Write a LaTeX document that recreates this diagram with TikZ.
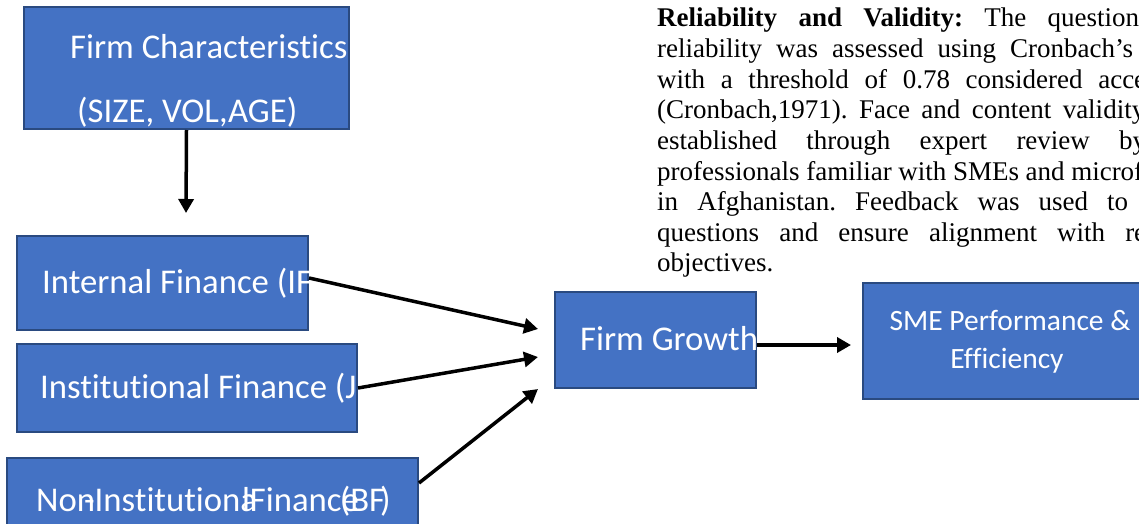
\documentclass[tikz,border=0pt]{standalone}
\usepackage{fontspec}
\setmainfont{Liberation Serif}
\newfontfamily\boxfont[Ligatures={NoCommon}]{Carlito}
\usetikzlibrary{arrows.meta}
\definecolor{boxblue}{HTML}{4472C4}
\definecolor{boxedge}{HTML}{2A4A80}
\frenchspacing
\begin{document}
\begin{tikzpicture}[x=1pt,y=-1pt,
  blockbox/.style={draw=boxedge, fill=boxblue, line width=2pt, inner sep=0pt, rectangle},
  boxtext/.style={text=white, font=\boxfont\fontsize{34.7}{40}\selectfont, inner sep=0pt, anchor=base west},
  smalltext/.style={text=white, font=\boxfont\fontsize{29.5}{36}\selectfont, inner sep=0pt, anchor=base},
  conn/.style={draw=black, line width=3.5pt, -{Triangle[length=14pt,width=15pt]}},
  paraline/.style={inner sep=0pt, anchor=base west, font=\fontsize{27}{30.6}\selectfont}]
\useasboundingbox (0,0) rectangle (1139,524);
\clip (0,0) rectangle (1139,524);
\fill[white] (0,0) rectangle (1139,524);
% boxes
\node[blockbox, minimum width=325pt, minimum height=122pt] (fc) at (186.5,68) {};
\node[blockbox, minimum width=291pt, minimum height=94pt] (if) at (162.5,283) {};
\node[blockbox, minimum width=340pt, minimum height=88pt] (inf) at (187,388) {};
\node[blockbox, minimum width=411pt, minimum height=82pt] (nif) at (212.5,499) {};
\node[blockbox, minimum width=201pt, minimum height=96pt] (fg) at (655,340) {};
\node[blockbox, minimum width=287pt, minimum height=116pt] (sme) at (1006.5,341) {};
% texts
\node[boxtext] (fct1) at (70,59) {Firm Characteristics};
\node[boxtext] (fct2) at (77,122) {(SIZE, VOL,AGE)};
\begin{scope}
\clip (if.south west) rectangle (if.north east);
\node[boxtext] (ift) at (42,293) {Internal Finance (IF};
\end{scope}
\begin{scope}
\clip (inf.south west) rectangle (inf.north east);
\node[boxtext] (inft) at (40,398) {Institutional Finance (J};
\end{scope}
\node[boxtext] (nift) at (36,511) {Non\hspace{-11pt}-Institutiona\hspace{-15pt}lFinance\hspace{-19pt}(BF\hspace{-5pt})};
\node[boxtext] (fgt) at (580,350) {Firm Growth};
\node[smalltext] (smet1) at (1010,330) {SME Performance \&};
\node[smalltext] (smet2) at (1007,368) {Efficiency};
% connectors
\coordinate (fcend) at (186,213);
\coordinate (g1) at (538,329);
\coordinate (g2) at (538,357);
\coordinate (g3) at (538,389);
\coordinate (smeend) at (851,345);
\draw[conn] (fc.south) -- (fcend);
\draw[conn] ([yshift=5pt]if.east) -- (g1);
\draw[conn] (inf.east) -- (g2);
\draw[conn] ([yshift=16pt]nif.east) -- (g3);
\draw[conn] ([yshift=-5pt]fg.east) -- (smeend);
% paragraph
\node[paraline] (p1) at (657,27) {\makebox[482pt][s]{\textbf{Reliability and Validity:} The question}};
\node[paraline] (p2) at (657,57.6) {\makebox[476pt][s]{reliability was assessed using Cronbach’s}};
\node[paraline] (p3) at (657,88.2) {\makebox[489pt][s]{with a threshold of 0.78 considered acce}};
\node[paraline] (p4) at (657,118.8) {\makebox[488pt][s]{(Cronbach,1971). Face and content validity}};
\node[paraline] (p5) at (657,149.4) {\makebox[489pt][s]{established through expert review by}};
\node[paraline] (p6) at (657,180) {\makebox[486pt][s]{professionals familiar with SMEs and microf}};
\node[paraline] (p7) at (657,210.6) {\makebox[471pt][s]{in Afghanistan. Feedback was used to}};
\node[paraline] (p8) at (657,241.2) {\makebox[489pt][s]{questions and ensure alignment with re}};
\node[paraline] (p9) at (657,271.8) {objectives.};
\end{tikzpicture}
\end{document}
